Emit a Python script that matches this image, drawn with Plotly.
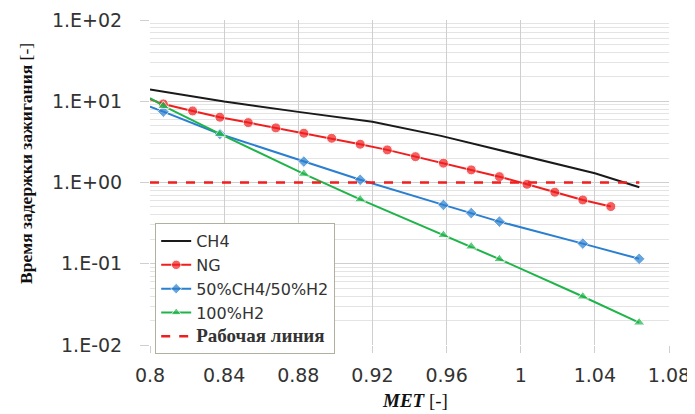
import plotly.graph_objects as go

# ---- data ----
ch4_x = [0.800, 0.840, 0.880, 0.920, 0.957, 1.000, 1.040, 1.064]
ch4_y = [14.0, 9.9, 7.4, 5.6, 3.75, 2.19, 1.30, 0.875]

ng_x = [0.800, 0.8072, 0.823, 0.8377, 0.853, 0.8679, 0.883, 0.898, 0.9134, 0.928,
        0.9432, 0.9583, 0.9733, 0.9885, 1.0034, 1.0184, 1.0335, 1.0486]
ng_y = [10.6, 9.27, 7.6, 6.36, 5.46, 4.70, 4.04, 3.50, 2.96, 2.52,
        2.08, 1.73, 1.43, 1.18, 0.95, 0.76, 0.61, 0.506]

mix_x = [0.800, 0.8072, 0.8377, 0.883, 0.9134, 0.9583, 0.9733, 0.9885, 1.0335, 1.0639]
mix_y = [8.6, 7.45, 3.96, 1.81, 1.08, 0.53, 0.42, 0.33, 0.177, 0.115]

h2_x = [0.800, 0.8072, 0.8377, 0.883, 0.9134, 0.9583, 0.9733, 0.9885, 1.0335, 1.0639]
h2_y = [10.9, 8.75, 3.96, 1.28, 0.62, 0.226, 0.163, 0.114, 0.0395, 0.0189]

work_x = [0.800, 1.064]
work_y = [1.0, 1.0]

x_ticks = [0.8, 0.84, 0.88, 0.92, 0.96, 1.0, 1.04, 1.08]
x_ticktext = ["0.8", "0.84", "0.88", "0.92", "0.96", "1", "1.04", "1.08"]
y_ticks = [0.01, 0.1, 1, 10, 100]
y_ticktext = ["1.E-02", "1.E-01", "1.E+00", "1.E+01", "1.E+02"]

names = ["CH4", "NG", "50%CH4/50%H2", "100%H2", "Рабочая линия"]

RED = "#f01e1e"
BLUE = "#2a7fd0"
GREEN = "#1fb44a"
BLACK = "#1a1a1a"


def sizes(n, s):
    # first point is the line start at x=0.8, drawn without a marker
    return [0] + [s] * (n - 1)


fig = go.Figure()
fig.add_trace(go.Scatter(x=ch4_x, y=ch4_y, mode="lines", name=names[0],
                         line=dict(color=BLACK, width=2)))
fig.add_trace(go.Scatter(x=ng_x, y=ng_y, mode="lines+markers", name=names[1],
                         line=dict(color=RED, width=2),
                         marker=dict(symbol="circle", color=RED, size=sizes(len(ng_x), 10))))
fig.add_trace(go.Scatter(x=mix_x, y=mix_y, mode="lines+markers", name=names[2],
                         line=dict(color=BLUE, width=2),
                         marker=dict(symbol="diamond", color=BLUE, size=sizes(len(mix_x), 9))))
fig.add_trace(go.Scatter(x=h2_x, y=h2_y, mode="lines+markers", name=names[3],
                         line=dict(color=GREEN, width=2),
                         marker=dict(symbol="triangle-up", color=GREEN, size=sizes(len(h2_x), 10))))
fig.add_trace(go.Scatter(x=work_x, y=work_y, mode="lines",
                         name="<span style='font-family:Liberation Serif;font-weight:bold;font-size:19px'>"
                              + names[4] + "</span>",
                         line=dict(color=RED, width=2.5, dash="dash")))

minor_vals = [k * 10 ** e for e in range(-2, 2) for k in range(2, 10)]

# the page body adds an 8px offset, so the figure is sized to fit the window
fig.update_layout(
    width=687, height=406,
    margin=dict(l=142, r=26, t=12, b=69, autoexpand=False),
    paper_bgcolor="white", plot_bgcolor="white",
    showlegend=True,
    legend=dict(x=0.01, y=0.375, xanchor="left", yanchor="top",
                bgcolor="white", bordercolor="#b0b0a0", borderwidth=1,
                font=dict(family="DejaVu Sans", size=16, color="#333333"),
                tracegroupgap=0, itemwidth=30),
    font=dict(family="DejaVu Sans", color="#333333"),
)

fig.update_xaxes(range=[0.8, 1.08], tickvals=x_ticks, ticktext=x_ticktext,
                 showgrid=True, gridcolor="#cfcfcf", gridwidth=1.2,
                 ticks="outside", ticklen=7, tickcolor="#cfcfcf",
                 tickfont=dict(family="DejaVu Sans", size=19, color="#333333"),
                 ticklabelstandoff=6, automargin=False,
                 zeroline=False, showline=False)
fig.update_yaxes(type="log", range=[-2, 2], tickvals=y_ticks, ticktext=y_ticktext,
                 showgrid=True, gridcolor="#cfcfcf", gridwidth=1.2,
                 ticks="outside", ticklen=9, tickcolor="#cfcfcf",
                 tickfont=dict(family="DejaVu Sans", size=19, color="#333333"),
                 ticklabelstandoff=14, automargin=False,
                 minor=dict(tickmode="array", tickvals=minor_vals, showgrid=True,
                            gridcolor="#e4e4e4", gridwidth=1, ticks=""),
                 zeroline=False, showline=False)

# axis titles
fig.add_annotation(xref="paper", yref="paper", x=-0.239, y=0.56,
                   text="<b>Время задержки зажигания</b> [-]", textangle=-90,
                   showarrow=False, xanchor="center", yanchor="middle",
                   font=dict(family="Liberation Serif", size=17.5, color="#111111"))
fig.add_annotation(xref="paper", yref="paper", x=0.51, y=-0.172,
                   text="<b><i>MET</i></b> [-]",
                   showarrow=False, xanchor="center", yanchor="middle",
                   font=dict(family="Liberation Serif", size=19, color="#111111"))

fig.write_html("out.html")
